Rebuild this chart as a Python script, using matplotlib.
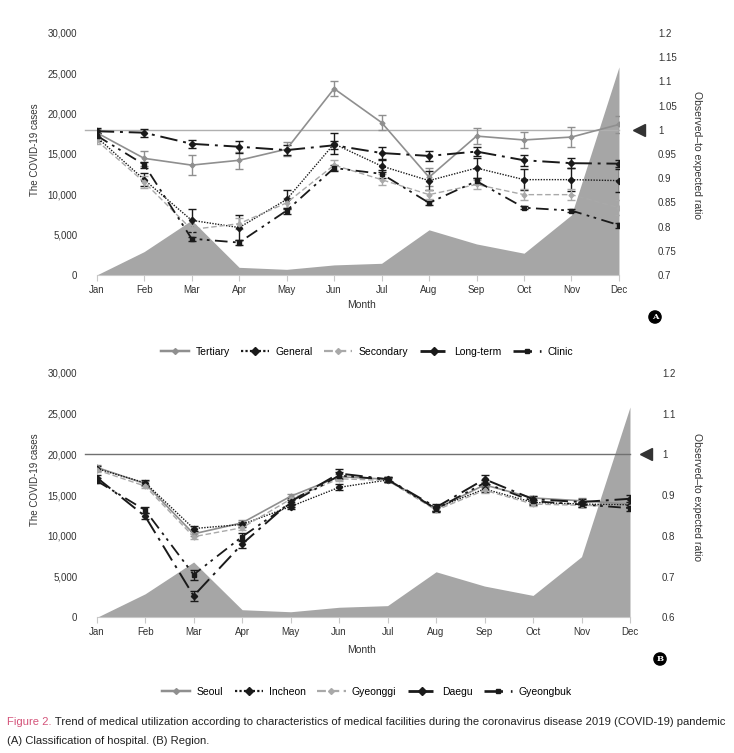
import matplotlib
matplotlib.use('Agg')
import matplotlib.pyplot as plt
from matplotlib.lines import Line2D
from matplotlib.ticker import FuncFormatter, MultipleLocator

plt.rcParams['font.family'] = ['Liberation Sans', 'DejaVu Sans']

# DATA
months = ['Jan', 'Feb', 'Mar', 'Apr', 'May', 'Jun', 'Jul', 'Aug', 'Sep', 'Oct', 'Nov', 'Dec']
covid_cases = [0, 2900, 6800, 950, 700, 1250, 1450, 5600, 3850, 2700, 7450, 25800]

# (A) classification of hospital, observed-to-expected ratio
tertiary = [0.994, 0.941, 0.927, 0.937, 0.960, 1.085, 1.015, 0.902, 0.987, 0.979, 0.985, 1.011]
tertiary_err = [0.008, 0.016, 0.021, 0.018, 0.015, 0.016, 0.016, 0.019, 0.016, 0.017, 0.021, 0.017]
general = [0.985, 0.897, 0.813, 0.798, 0.856, 0.971, 0.925, 0.895, 0.921, 0.897, 0.897, 0.895]
general_err = [0.008, 0.014, 0.024, 0.025, 0.019, 0.022, 0.012, 0.020, 0.020, 0.021, 0.024, 0.024]
secondary = [0.978, 0.892, 0.794, 0.806, 0.849, 0.927, 0.897, 0.866, 0.887, 0.866, 0.866, 0.839]
secondary_err = [0.008, 0.012, 0.010, 0.012, 0.010, 0.010, 0.011, 0.010, 0.010, 0.011, 0.011, 0.015]
longterm = [0.997, 0.994, 0.971, 0.965, 0.958, 0.968, 0.952, 0.946, 0.955, 0.937, 0.931, 0.930]
longterm_err = [0.007, 0.008, 0.008, 0.012, 0.010, 0.008, 0.012, 0.010, 0.010, 0.011, 0.010, 0.007]
clinic = [0.988, 0.928, 0.775, 0.767, 0.833, 0.921, 0.909, 0.849, 0.894, 0.839, 0.833, 0.803]
clinic_err = [0.006, 0.006, 0.004, 0.005, 0.006, 0.006, 0.008, 0.004, 0.006, 0.003, 0.003, 0.005]

# (B) region, observed-to-expected ratio
seoul = [0.968, 0.928, 0.805, 0.832, 0.897, 0.945, 0.939, 0.866, 0.925, 0.893, 0.886, 0.878]
seoul_err = [0.006, 0.006, 0.006, 0.006, 0.006, 0.006, 0.005, 0.006, 0.006, 0.006, 0.006, 0.006]
incheon = [0.965, 0.930, 0.818, 0.828, 0.872, 0.919, 0.937, 0.868, 0.915, 0.882, 0.878, 0.876]
incheon_err = [0.006, 0.006, 0.007, 0.006, 0.007, 0.007, 0.005, 0.006, 0.007, 0.006, 0.006, 0.006]
gyeonggi = [0.962, 0.922, 0.798, 0.820, 0.890, 0.940, 0.936, 0.863, 0.912, 0.878, 0.875, 0.872]
gyeonggi_err = [0.005, 0.005, 0.006, 0.005, 0.006, 0.006, 0.005, 0.005, 0.006, 0.005, 0.005, 0.005]
daegu = [0.943, 0.848, 0.653, 0.780, 0.884, 0.953, 0.939, 0.870, 0.939, 0.890, 0.883, 0.891]
daegu_err = [0.006, 0.007, 0.012, 0.010, 0.008, 0.010, 0.006, 0.008, 0.010, 0.008, 0.007, 0.010]
gyeongbuk = [0.935, 0.863, 0.705, 0.798, 0.880, 0.948, 0.938, 0.866, 0.930, 0.885, 0.877, 0.868]
gyeongbuk_err = [0.006, 0.008, 0.012, 0.010, 0.008, 0.008, 0.006, 0.007, 0.008, 0.007, 0.007, 0.008]

# STYLES
GRAY = '#8f8f8f'
LIGHT = '#a9a9a9'
DARK = '#1a1a1a'
styles = [
    dict(color=GRAY, ls='-', lw=1.2, marker='D', ms=2.5),
    dict(color=DARK, ls=(0, (1, 1)), lw=1.0, marker='D', ms=3.2),
    dict(color=LIGHT, ls=(0, (4, 2)), lw=1.0, marker='D', ms=2.5),
    dict(color=DARK, ls=(0, (9, 3, 1.5, 3)), lw=1.4, marker='D', ms=3.2),
    dict(color=DARK, ls=(0, (7, 3, 1.5, 2.5, 1.5, 3)), lw=1.3, marker='s', ms=3.0),
]

fig = plt.figure(figsize=(7.34, 7.53), dpi=100)
fmt_cases = FuncFormatter(lambda v, p: f'{int(v):,}')
fmt_ratio = FuncFormatter(lambda v, p: f'{v:g}')
x = list(range(len(months)))


def draw_panel(rect, series, errs, names, rlim, rstep, rpad, line_color, tri_x, letter, letter_xy, leg_y):
    ax = fig.add_axes(rect)
    ax.fill_between(x, covid_cases, 0, color='#a6a6a6', lw=0, zorder=1)
    ax.set_xlim(0, 11)
    ax.set_ylim(0, 30000)
    ax.yaxis.set_major_locator(MultipleLocator(5000))
    ax.yaxis.set_major_formatter(fmt_cases)
    ax.set_xticks(x)
    ax.set_xticklabels(months)
    for s in ['top', 'right', 'left']:
        ax.spines[s].set_visible(False)
    ax.spines['bottom'].set_color('#c8c8c8')
    ax.tick_params(axis='y', length=0, pad=14, labelsize=7, labelcolor='#333333')
    ax.tick_params(axis='x', length=4, color='#c8c8c8', pad=3, labelsize=7, labelcolor='#333333')

    ax2 = ax.twinx()
    ax2.set_ylim(*rlim)
    ax2.yaxis.set_major_locator(MultipleLocator(rstep))
    ax2.yaxis.set_major_formatter(fmt_ratio)
    for s in ax2.spines.values():
        s.set_visible(False)
    ax2.tick_params(axis='y', length=0, pad=rpad, labelsize=7, labelcolor='#333333')
    ax2.plot([-0.25, 11], [1, 1], color=line_color, lw=1.0, clip_on=False, zorder=2)
    ax2.plot([tri_x], [1], marker='<', color='#333333', ms=9, clip_on=False)

    handles = []
    for vals, err, st, name in zip(series, errs, styles, names):
        ax2.errorbar(x, vals, yerr=err, color=st['color'], ls=st['ls'], lw=st['lw'],
                     marker=st['marker'], ms=st['ms'], capsize=3, elinewidth=1.0,
                     capthick=1.0, zorder=3)
        handles.append(Line2D([0], [0], color=st['color'], ls=st['ls'], lw=st['lw'] + 0.6,
                              marker=st['marker'], ms=st['ms'] + 0.5))
    fig.legend(handles, names, loc='center', bbox_to_anchor=(0.5, leg_y), ncol=5,
               frameon=False, fontsize=7.5, handlelength=2.7, columnspacing=1.1,
               handletextpad=0.6)
    fig.text(letter_xy[0], letter_xy[1], letter, ha='center', va='center', color='white',
             fontsize=6, fontweight='bold', family='DejaVu Serif',
             bbox=dict(boxstyle='circle,pad=0.25', fc='black', ec='black'))
    return ax, ax2


ax_a, _ = draw_panel([0.1317, 0.6348, 0.7116, 0.3214],
                     [tertiary, general, secondary, longterm, clinic],
                     [tertiary_err, general_err, secondary_err, longterm_err, clinic_err],
                     ['Tertiary', 'General', 'Secondary', 'Long-term', 'Clinic'],
                     (0.7, 1.2), 0.05, 28, '#b0b0b0', 11.43, 'A', (655 / 734, 1 - 317 / 753), 1 - 352 / 753)
ax_b, _ = draw_panel([0.1317, 0.18, 0.7266, 0.325],
                     [seoul, incheon, gyeonggi, daegu, gyeongbuk],
                     [seoul_err, incheon_err, gyeonggi_err, daegu_err, gyeongbuk_err],
                     ['Seoul', 'Incheon', 'Gyeonggi', 'Daegu', 'Gyeongbuk'],
                     (0.6, 1.2), 0.1, 23, '#707070', 11.33, 'B', (660 / 734, 1 - 659 / 753), 1 - 692 / 753)

# axis titles
for yc_left, yc_right, ymonth in [(150, 155, 305), (480, 497, 650)]:
    fig.text(35 / 734, 1 - yc_left / 753, 'The COVID-19 cases', rotation=90, ha='center',
             va='center', fontsize=7, color='#333333')
    fig.text(697 / 734, 1 - yc_right / 753, 'Observed\u2013to expected ratio', rotation=270,
             ha='center', va='center', fontsize=7.5, color='#333333')
    fig.text(362 / 734, 1 - ymonth / 753, 'Month', ha='center', va='center', fontsize=7.5,
             color='#333333')

# caption
t1 = fig.text(7 / 734, 1 - 722 / 753, 'Figure 2.', ha='left', va='center', fontsize=8.1,
              color='#d4547a')
ax_b.annotate(' Trend of medical utilization according to characteristics of medical facilities '
              'during the coronavirus disease 2019 (COVID-19) pandemic',
              xy=(1, 0.5), xycoords=t1, ha='left', va='center', fontsize=8.1, color='#222222',
              annotation_clip=False)
fig.text(7 / 734, 1 - 741 / 753, '(A) Classification of hospital. (B) Region.', ha='left',
         va='center', fontsize=8.1, color='#222222')

fig.savefig('out.png', dpi=100)
